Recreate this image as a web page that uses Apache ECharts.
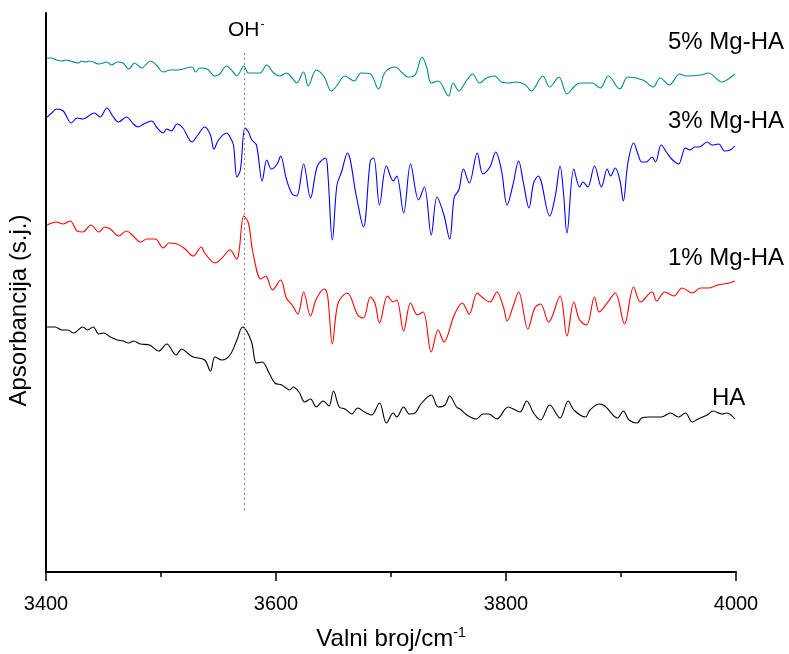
<!DOCTYPE html>
<html><head><meta charset="utf-8">
<script src="https://cdn.jsdelivr.net/npm/echarts@6/dist/echarts.min.js"></script>
<style>html,body{margin:0;padding:0;background:#fff}#c{width:789px;height:654px}</style>
</head><body><div id="c"></div>
<script>
// wavenumber (cm-1) and absorbance (arbitrary units) for each sample
const mg5X = [3401,3405,3409,3414,3417,3421,3428,3431,3434,3438,3446,3453,3457,3462,3467,3472,3477,3483,3491,3496,3502,3508,3514,3527,3530,3534,3540,3547,3551,3557,3562,3566,3572,3576,3580,3586,3592,3598,3603,3609,3614,3618,3624,3628,3635,3642,3648,3652,3660,3668,3674,3682,3689,3695,3704,3709,3715,3721,3727,3731,3735,3741,3750,3754,3759,3766,3771,3777,3783,3790,3796,3802,3809,3817,3822,3832,3838,3846,3853,3859,3864,3875,3882,3889,3899,3906,3919,3928,3934,3942,3951,3957,3969,3976,3988,3992,3999];
const mg5Y = [514,514,512,511,512,511,509,511,510,511,508,510,507,510,509,503,509,504,511,507,500,502,502,505,500,504,503,496,498,506,501,496,506,499,499,499,507,499,496,499,494,489,500,486,502,495,481,485,496,491,499,498,483,500,505,500,495,497,515,505,489,491,476,489,481,492,498,489,494,496,490,489,490,487,481,496,485,495,478,485,489,489,484,496,483,495,492,485,494,487,498,496,497,499,490,492,498];

const mg3X = [3401,3405,3409,3415,3422,3427,3432,3442,3447,3453,3458,3463,3470,3476,3480,3485,3492,3496,3502,3505,3509,3514,3519,3527,3532,3538,3543,3546,3550,3557,3560,3563,3566,3569,3573,3576,3579,3583,3588,3592,3596,3601,3604,3609,3614,3618,3624,3630,3636,3643,3645,3649,3653,3657,3662,3670,3676,3682,3685,3690,3696,3702,3705,3711,3717,3724,3729,3735,3740,3746,3751,3755,3759,3763,3768,3775,3780,3786,3791,3796,3801,3806,3811,3815,3820,3824,3828,3838,3843,3847,3850,3853,3859,3864,3867,3871,3877,3883,3888,3891,3895,3899,3902,3906,3911,3915,3918,3922,3927,3930,3935,3940,3944,3950,3956,3960,3964,3968,3975,3979,3985,3990,3995,3999];
const mg3Y = [455,459,463,461,449,454,453,459,455,464,456,450,455,448,445,448,451,445,439,443,441,448,444,430,437,445,437,423,432,439,435,427,395,402,444,440,432,427,391,412,403,408,416,393,378,376,408,374,406,414,400,332,387,400,419,375,345,411,414,367,406,391,396,359,408,372,385,337,375,357,333,375,382,403,389,419,398,405,420,402,367,387,411,390,364,389,396,356,377,406,379,339,403,385,390,385,406,385,403,396,404,392,371,409,429,417,410,410,415,410,427,419,413,408,424,422,425,425,430,427,428,421,422,426];

const mg1X = [3401,3405,3409,3415,3421,3427,3432,3439,3446,3451,3456,3463,3470,3475,3482,3488,3495,3502,3507,3514,3521,3528,3535,3538,3547,3553,3560,3566,3568,3572,3576,3580,3587,3591,3597,3604,3609,3614,3619,3624,3630,3635,3642,3645,3649,3654,3662,3671,3676,3682,3686,3690,3697,3702,3705,3711,3717,3723,3728,3735,3741,3746,3755,3762,3768,3775,3779,3786,3792,3798,3801,3806,3811,3819,3825,3830,3837,3847,3853,3859,3864,3870,3877,3881,3888,3895,3903,3911,3917,3927,3931,3938,3946,3953,3962,3969,3976,3984,3994,3999];
const mg1Y = [347,349,350,348,351,341,340,347,340,345,343,336,341,337,330,333,333,324,329,328,323,316,325,319,309,314,322,313,322,356,349,319,293,296,282,292,274,267,258,280,256,273,283,275,228,269,279,257,254,275,269,249,276,270,272,241,269,257,260,220,242,230,257,269,258,279,275,270,280,264,251,265,280,243,264,268,250,276,236,270,252,247,275,260,269,279,248,285,270,280,271,280,276,284,279,284,284,287,289,291];

const haX = [3401,3408,3414,3419,3424,3432,3436,3441,3446,3450,3456,3462,3467,3472,3476,3482,3490,3498,3505,3513,3518,3524,3528,3538,3543,3547,3553,3560,3566,3571,3575,3579,3583,3588,3594,3599,3605,3612,3615,3620,3625,3630,3635,3641,3646,3650,3655,3660,3666,3671,3677,3683,3690,3696,3702,3705,3711,3716,3721,3726,3735,3741,3747,3751,3757,3760,3766,3774,3780,3785,3792,3802,3812,3818,3824,3830,3838,3847,3854,3859,3869,3873,3881,3886,3897,3902,3907,3914,3918,3925,3935,3943,3950,3956,3962,3967,3975,3980,3988,3992,3999];
const haY = [245,245,242,242,239,245,242,245,238,239,235,232,231,229,231,228,227,221,228,217,223,218,215,212,201,215,212,217,232,245,240,229,209,210,199,189,187,182,185,180,170,173,165,171,166,181,165,163,158,164,160,157,169,149,159,155,165,158,159,168,177,165,167,176,165,163,157,153,158,158,153,165,160,171,159,152,167,154,171,162,155,162,168,166,154,161,152,149,154,155,155,159,155,159,150,153,157,161,158,159,153];

const seriesNames = ['HA','1% Mg-HA','3% Mg-HA','5% Mg-HA'];
const seriesColors = ['#000000','#ff0000','#0000ff','#008b8b'];
const xTicks = [3400, 3600, 3800, 4000];
const ohPosition = 3572;

const zip = (xs, ys) => xs.map((x, i) => [x, ys[i]]);
const dataSets = [zip(haX, haY), zip(mg1X, mg1Y), zip(mg3X, mg3Y), zip(mg5X, mg5Y)];

const FONT = 'Liberation Sans, Arial, sans-serif';
const chart = echarts.init(document.getElementById('c'));

const series = dataSets.map((d, i) => ({
  name: seriesNames[i], type: 'line', data: d, showSymbol: false, smooth: 0.35,
  lineStyle: { color: seriesColors[i], width: 1.1 }, itemStyle: { color: seriesColors[i] },
  animation: false, z: 3
}));
series[0].markLine = {
  silent: true, symbol: 'none', label: { show: false },
  lineStyle: { color: '#888', type: [2, 3], width: 1 },
  data: [[{ coord: [ohPosition, 62] }, { coord: [ohPosition, 522] }]]
};

const labelStyle = (text, x, y) => ({
  type: 'text', x: x, y: y,
  style: { text: text, fontSize: 24, fontFamily: FONT, fill: '#000', textVerticalAlign: 'middle', verticalAlign: 'middle' }
});

chart.setOption({
  backgroundColor: '#fff',
  animation: false,
  grid: { left: 46, right: 53, top: 13, bottom: 82, containLabel: false, outerBoundsMode: 'none' },
  xAxis: {
    type: 'value', min: xTicks[0], max: xTicks[xTicks.length - 1], interval: 200,
    name: '{a|Valni broj/cm}{s|-1}', nameLocation: 'middle', nameGap: 54,
    nameTextStyle: { rich: { a: { fontSize: 24, fontFamily: FONT, color: '#000' }, s: { fontSize: 14, fontFamily: FONT, color: '#000', verticalAlign: 'top', padding: [0, 0, 12, 0] } } },
    axisLine: { lineStyle: { color: '#000', width: 2 } },
    axisTick: { show: true, length: 9, lineStyle: { color: '#000', width: 1.5 } },
    minorTick: { show: true, splitNumber: 2, length: 5, lineStyle: { color: '#000', width: 1.5 } },
    axisLabel: { fontSize: 20, fontFamily: FONT, color: '#000', margin: 22, formatter: v => String(v) },
    splitLine: { show: false }
  },
  yAxis: {
    type: 'value', min: 0, max: 559,
    name: 'Apsorbancija (s.j.)', nameLocation: 'middle', nameGap: 15, nameRotate: 90,
    nameTextStyle: { fontSize: 24, fontFamily: FONT, color: '#000', padding: [0, 36, 0, 0] },
    axisLine: { show: true, lineStyle: { color: '#000', width: 2 } },
    axisTick: { show: false }, axisLabel: { show: false }, splitLine: { show: false }
  },
  graphic: [
    labelStyle(seriesNames[3], 668, 42),
    labelStyle(seriesNames[2], 668, 121),
    labelStyle(seriesNames[1], 668, 258),
    labelStyle(seriesNames[0], 712, 398),
    { type: 'text', x: 228, y: 30, style: { text: '{a|OH}{s|-}', verticalAlign: 'middle', textVerticalAlign: 'middle', rich: { a: { fontSize: 21, fontFamily: FONT, fill: '#000' }, s: { fontSize: 12, fontFamily: FONT, fill: '#000', verticalAlign: 'top', padding: [0, 0, 10, 1] } } } }
  ],
  series
});
</script>
</body></html>
